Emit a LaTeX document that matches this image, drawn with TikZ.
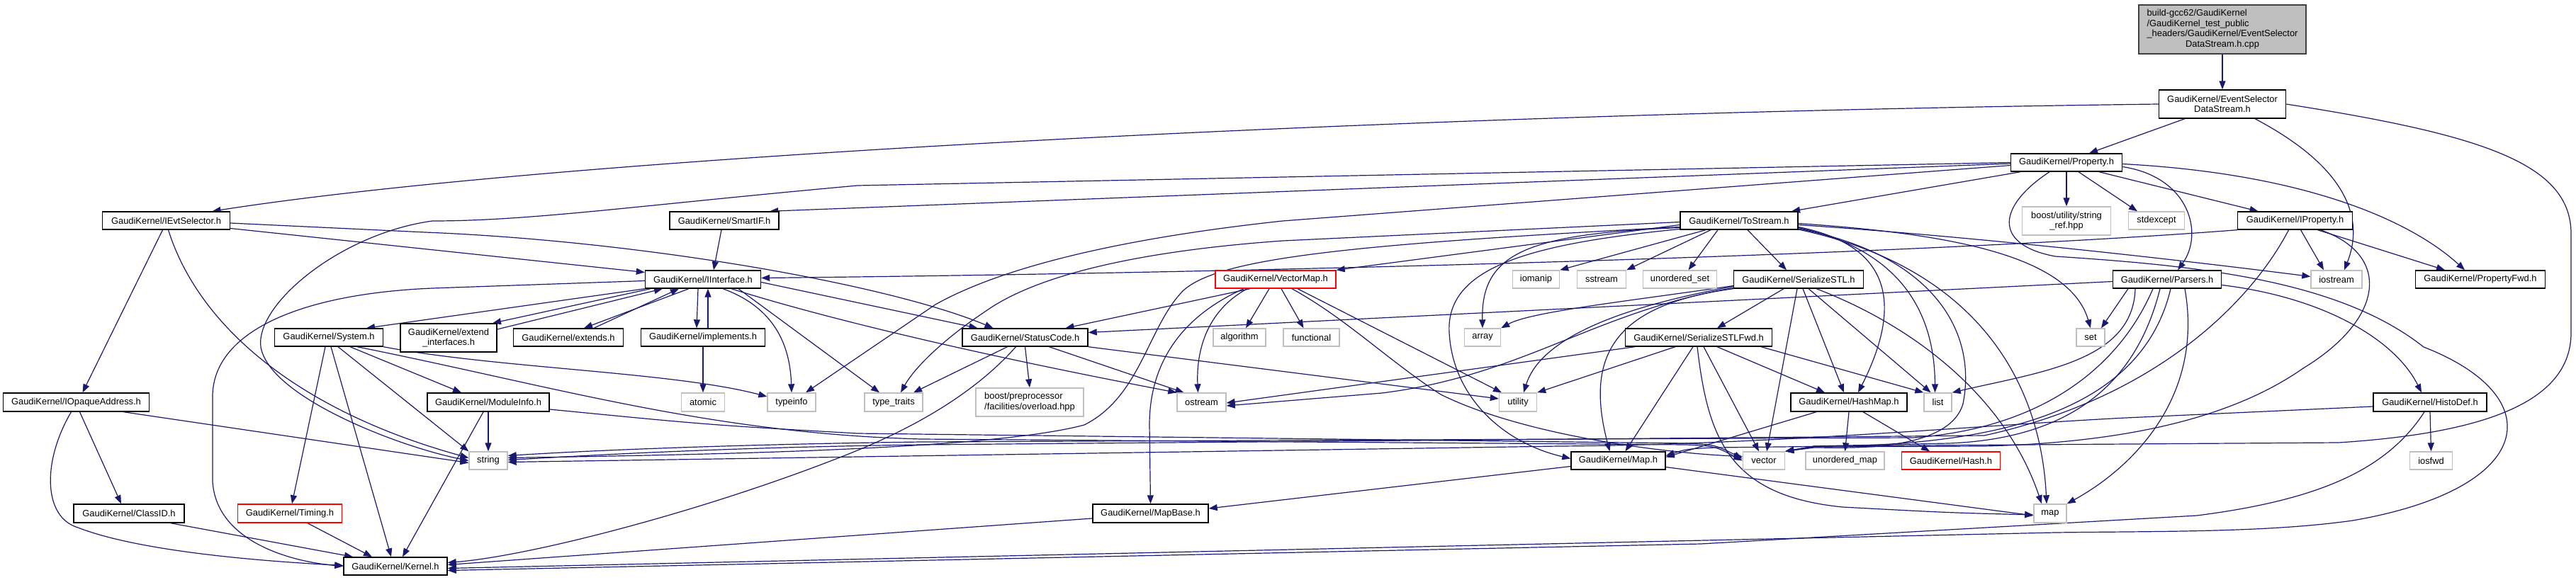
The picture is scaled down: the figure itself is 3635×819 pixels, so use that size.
\documentclass[tikz,border=0pt]{standalone}
\usepackage{fontspec}
\setmainfont{Liberation Sans}
\usetikzlibrary{arrows.meta,calc}
\definecolor{edgec}{HTML}{191970}
\definecolor{sysgray}{HTML}{BFBFBF}
\pgfdeclarelayer{back}
\pgfdeclarelayer{bg}
\pgfsetlayers{back,bg,main}
\newcommand{\dgfont}{\fontsize{12.9pt}{14.5pt}\selectfont}
\tikzset{
 box/.style={draw=black, line width=1.4pt, rectangle, inner sep=0pt, fill=white, font=\dgfont, minimum height=25pt},
 sysbox/.style={box, draw=sysgray},
 redbox/.style={box, draw=red},
 edge/.style={draw=edgec, line width=1.2pt, -{Triangle[length=12pt,width=9pt]}},
}
\begin{document}
\begin{tikzpicture}[x=1pt,y=-1pt]
\begin{pgfonlayer}{back}\fill[white] (0,0) rectangle (3635,819);\end{pgfonlayer}
\useasboundingbox (0,0) rectangle (3635,819);
% ---- nodes ----
\node[box, fill=sysgray, draw=black!75, minimum width=236pt, minimum height=69pt] (root) at (3136,41.5)
 {\begin{tabular}{@{}l@{}}build-gcc62/GaudiKernel\\/GaudiKernel\_test\_public\\\_headers/GaudiKernel/EventSelector\\\multicolumn{1}{@{}c@{}}{DataStream.h.cpp}\end{tabular}};
\node[box, minimum width=179pt, minimum height=40pt, align=center] (esds) at (3136,147) {GaudiKernel/EventSelector\\DataStream.h};
\node[box, minimum width=157pt] (prop) at (2916,229.5) {GaudiKernel/Property.h};
% row 1
\node[box, minimum width=180pt] (iev) at (234.5,311.5) {GaudiKernel/IEvtSelector.h};
\node[box, minimum width=154pt] (smart) at (1022,311.5) {GaudiKernel/SmartIF.h};
\node[box, minimum width=166pt] (ts) at (2454,311.5) {GaudiKernel/ToStream.h};
\node[sysbox, minimum width=125pt, minimum height=40pt, align=center] (sref) at (2916,312) {boost/utility/string\\\_ref.hpp};
\node[sysbox, minimum width=79pt] (stdx) at (3043,311.5) {stdexcept};
\node[box, minimum width=162pt] (iprop) at (3238.5,311.5) {GaudiKernel/IProperty.h};
% row 2
\node[box, minimum width=163pt] (ii) at (992,394.5) {GaudiKernel/IInterface.h};
\node[redbox, minimum width=170pt] (vmap) at (1800,394.5) {GaudiKernel/VectorMap.h};
\node[sysbox, minimum width=66pt] (iomanip) at (2167.5,394.5) {iomanip};
\node[sysbox, minimum width=69pt] (sstream) at (2260,394.5) {sstream};
\node[sysbox, minimum width=104pt] (uset) at (2370.5,394.5) {unordered\_set};
\node[box, minimum width=183pt] (sstl) at (2538,394.5) {GaudiKernel/SerializeSTL.h};
\node[box, minimum width=153pt] (pars) at (3058,394.5) {GaudiKernel/Parsers.h};
\node[sysbox, minimum width=72pt] (iostream) at (3297,394.5) {iostream};
\node[box, minimum width=183pt] (pfwd) at (3500,394.5) {GaudiKernel/PropertyFwd.h};
% row 3
\node[box, minimum width=153pt] (sys) at (464,476.5) {GaudiKernel/System.h};
\node[box, minimum width=136pt, minimum height=40pt, align=center] (extif) at (633,477) {GaudiKernel/extend\\\_interfaces.h};
\node[box, minimum width=155pt] (extends) at (802,476.5) {GaudiKernel/extends.h};
\node[box, minimum width=175pt] (impl) at (992,476.5) {GaudiKernel/implements.h};
\node[box, minimum width=177pt] (sc) at (1446.5,476.5) {GaudiKernel/StatusCode.h};
\node[sysbox, minimum width=74pt] (algo) at (1749,476.5) {algorithm};
\node[sysbox, minimum width=79pt] (func) at (1850.5,476.5) {functional};
\node[sysbox, minimum width=51pt] (array) at (2092,476.5) {array};
\node[box, minimum width=207pt] (sfwd) at (2397,476.5) {GaudiKernel/SerializeSTLFwd.h};
\node[sysbox, minimum width=40pt] (set) at (2950,476.5) {set};
% row 4
\node[box, minimum width=206pt, minimum height=26pt] (ioa) at (107.5,568) {GaudiKernel/IOpaqueAddress.h};
\node[box, minimum width=172pt, minimum height=26pt] (modinfo) at (689,568) {GaudiKernel/ModuleInfo.h};
\node[sysbox, minimum width=61pt, minimum height=26pt] (atomic) at (992,568) {atomic};
\node[sysbox, minimum width=68pt, minimum height=26pt] (typeinfo) at (1117,568) {typeinfo};
\node[sysbox, minimum width=82pt, minimum height=26pt] (tt) at (1261,568) {type\_traits};
\node[sysbox, minimum width=152pt, minimum height=40pt] (boostpp) at (1453,568)
 {\begin{tabular}{@{}l@{}}boost/preprocessor\\/facilities/overload.hpp\end{tabular}};
\node[sysbox, minimum width=69pt, minimum height=26pt] (ostream) at (1695.5,568) {ostream};
\node[sysbox, minimum width=53pt, minimum height=26pt] (utility) at (2142,568) {utility};
\node[box, minimum width=164pt, minimum height=26pt] (hmap) at (2609,568) {GaudiKernel/HashMap.h};
\node[sysbox, minimum width=39pt, minimum height=26pt] (list) at (2734.5,568) {list};
\node[box, minimum width=160pt, minimum height=26pt] (histo) at (3429,568) {GaudiKernel/HistoDef.h};
% row 5
\node[sysbox, minimum width=54pt] (str) at (689,650.5) {string};
\node[box, minimum width=133pt] (maph) at (2283.5,650.5) {GaudiKernel/Map.h};
\node[sysbox, minimum width=59pt] (vec) at (2489,650.5) {vector};
\node[sysbox, minimum width=111pt] (umap) at (2603.5,650.5) {unordered\_map};
\node[redbox, minimum width=139pt] (hash) at (2753,650.5) {GaudiKernel/Hash.h};
\node[sysbox, minimum width=60pt] (iosfwd) at (3430.5,650.5) {iosfwd};
% row 6
\node[box, minimum width=156pt, minimum height=26pt] (classid) at (182,725) {GaudiKernel/ClassID.h};
\node[redbox, minimum width=147pt, minimum height=26pt] (timing) at (409,725) {GaudiKernel/Timing.h};
\node[box, minimum width=163pt, minimum height=26pt] (mapbase) at (1623.5,725) {GaudiKernel/MapBase.h};
\node[sysbox, minimum width=46pt, minimum height=26pt] (map) at (2893,725) {map};
% row 7
\node[box, minimum width=146pt] (kernel) at (558,799.5) {GaudiKernel/Kernel.h};
% ---- edges ----
\begin{pgfonlayer}{bg}
\draw[edge] (root.south) -- (esds.north);
% EventSelectorDataStream.h
\draw[edge] (esds.west) .. controls (2000,160) and (800,220) .. ([xshift=65pt]iev.north);
\draw[edge] ([xshift=-53pt]esds.south) -- ([xshift=32pt]prop.north);
\draw[edge] ([xshift=46pt]esds.south) .. controls (3300,230) and (3340,300) .. ([xshift=11pt]iostream.north);
\draw[edge] (esds.east) .. controls (3500,190) and (3628,230) .. (3628,330) -- (3628,470) .. controls (3628,570) and (3500,612) .. (3300,625) -- (2560,630) -- (vec.north east);
% Property.h
\draw[edge] ([xshift=-65pt]prop.south) -- ([xshift=74pt]ts.north);
\draw[edge] ([yshift=-1.5pt]prop.west) -- ([xshift=64pt]smart.north);
\draw[edge] (prop.west) -- (1210,262) .. controls (900,290) and (750,312) .. (610,312) .. controls (480,330) and (360,430) .. (368,490) .. controls (380,560) and (560,630) .. (str.west);
\draw[edge] ([yshift=-4pt]prop.west) -- (1810,312) .. controls (1550,340) and (1400,385) .. (1320,430) -- ([xshift=20pt]typeinfo.north);
\draw[edge] (prop.south) -- (sref.north);
\draw[edge] ([xshift=17pt]prop.south) -- ([xshift=-27pt]stdx.north);
\draw[edge] ([xshift=46pt]prop.south) -- ([xshift=-52pt]iprop.north);
\draw[edge] ([yshift=-2pt]prop.east) .. controls (3250,245) and (3400,310) .. ([xshift=-22pt]pfwd.north);
\draw[edge] ([yshift=-6pt]prop.east) .. controls (3090,250) and (3110,330) .. ([xshift=15pt]pars.north);
\draw[edge] ([xshift=-24pt]prop.south) .. controls (2820,290) and (2810,345) .. (2900,362) .. controls (3100,375) and (3300,395) .. (3420,490) .. controls (3600,560) and (3580,690) .. (3320,735) .. controls (3200,752) and (3050,750) .. (2900,752) -- ([yshift=-3pt]kernel.east);
% IEvtSelector.h
\draw[edge] ([xshift=-5pt]iev.south) -- ([xshift=9pt]ioa.north);
\draw[edge] ([xshift=3pt]iev.south) .. controls (280,460) and (420,580) .. ([yshift=4pt]str.west);
\draw[edge] ([yshift=-3.5pt]iev.east) -- (600,328) .. controls (900,340) and (1250,400) .. ([xshift=-45pt]sc.north);
\draw[edge] ([yshift=-11pt]iev.east) -- ([yshift=10pt]ii.west);
% IInterface.h
\draw[edge] ([yshift=-2pt]ii.west) -- (610,407) .. controls (420,415) and (300,470) .. (300,560) -- (300,680) .. controls (305,760) and (400,792) .. (kernel.west);
\draw[edge] (ii.south west) -- ([xshift=53pt]sys.north);
\draw[edge] ([xshift=-74pt]ii.south) -- ([xshift=62pt]extif.north);
\draw[edge] ([yshift=12pt]extif.east) -- ([xshift=-57pt]ii.south);
\draw[edge] ([xshift=-20pt]ii.south) -- ([xshift=22pt]extends.north);
\draw[edge] ([xshift=36pt]extends.north) -- ([xshift=-34pt]ii.south);
\draw[edge] ([xshift=-7pt]ii.south) -- ([xshift=-9pt]impl.north);
\draw[edge] ([xshift=7pt]impl.north) -- ([xshift=7pt]ii.south);
\draw[edge] ([yshift=-4pt]ii.east) -- ([xshift=-67pt]sc.north);
\draw[edge] ([xshift=40pt]ii.south) .. controls (1150,445) and (1350,495) .. (ostream.north west);
\draw[edge] ([xshift=50pt]ii.south) -- ([xshift=-20pt]tt.north);
\draw[edge] ([xshift=28pt]ii.south) .. controls (1095,435) and (1115,490) .. (typeinfo.north);
% System.h
\draw[edge] ([xshift=-5pt]sys.south) -- ([xshift=3pt]timing.north);
\draw[edge] ([xshift=3pt]sys.south) -- ([xshift=-6pt]kernel.north);
\draw[edge] ([xshift=13pt]sys.south) -- (str.north west);
\draw[edge] ([xshift=30pt]sys.south) -- ([xshift=-38pt]modinfo.north);
\draw[edge] (sys.south east) .. controls (700,520) and (950,525) .. ([yshift=8pt]typeinfo.west);
\draw[edge] ([xshift=40pt]sys.south) .. controls (780,545) and (1000,612) .. (1300,620) -- (2380,628) .. controls (2420,630) .. (vec.west);
% ModuleInfo.h
\draw[edge] (modinfo.south) -- (str.north);
\draw[edge] ([xshift=-7pt]modinfo.south) -- ([xshift=10pt]kernel.north);
\draw[edge] ([yshift=-10pt]modinfo.east) .. controls (1000,600) .. (1210,612) -- (2380,626) .. controls (2420,628) .. ([yshift=3pt]vec.west);
% IOpaqueAddress.h, ClassID.h, Timing.h
\draw[edge] ([xshift=5pt]ioa.south) -- ([xshift=-11pt]classid.north);
\draw[edge] ([xshift=-7pt]ioa.south) .. controls (60,650) and (60,730) .. (110,745) .. controls (200,780) and (380,793) .. ([yshift=1pt]kernel.west);
\draw[edge] ([xshift=67pt]ioa.south) -- ([yshift=-3pt]str.west);
\draw[edge] ([xshift=59pt]classid.south) -- ([xshift=-60pt]kernel.north);
\draw[edge] ([xshift=25pt]timing.south) -- ([xshift=-33pt]kernel.north);
\draw[edge] (impl.south) -- (atomic.north);
\draw[edge] ([xshift=-4pt]smart.south) -- ([xshift=15pt]ii.north);
% StatusCode.h
\draw[edge] ([xshift=-25pt]sc.south) -- ([xshift=28pt]tt.north);
\draw[edge] ([xshift=-13pt]sc.south) .. controls (1380,550) and (1300,600) .. (1200,640) .. controls (1000,720) and (750,785) .. ([yshift=5pt]kernel.east);
\draw[edge] (sc.south) -- (boostpp.north);
\draw[edge] ([xshift=34pt]sc.south) -- ([xshift=-25pt]ostream.north);
\draw[edge] (sc.south east) -- ([yshift=5pt]utility.west);
% VectorMap.h
\draw[edge] ([xshift=-36pt]vmap.south) -- ([xshift=57pt]sc.north);
\draw[edge] ([xshift=-40pt]vmap.south) .. controls (1700,440) and (1688,500) .. ([xshift=-5pt]ostream.north);
\draw[edge] ([xshift=-45pt]vmap.south) .. controls (1660,450) and (1622,520) .. (1622,600) -- (mapbase.north);
\draw[edge] ([xshift=-9pt]vmap.south) -- ([xshift=9pt]algo.north);
\draw[edge] ([xshift=8pt]vmap.south) -- ([xshift=-11pt]func.north);
\draw[edge] ([xshift=31pt]vmap.south) -- ([xshift=-23pt]utility.north);
\draw[edge] ([xshift=23pt]vmap.south) .. controls (1900,450) and (1960,510) .. (2033,557) .. controls (2150,615) and (2350,640) .. ([yshift=6pt]vec.west);
% ToStream.h
\draw[edge] ([xshift=-47pt]ts.south) -- (iomanip.north east);
\draw[edge] ([xshift=-40pt]ts.south) -- (sstream.north east);
\draw[edge] ([xshift=-30pt]ts.south) -- ([xshift=12pt]uset.north);
\draw[edge] ([xshift=12pt]ts.south) -- ([xshift=-17pt]sstl.north);
\draw[edge] ([yshift=-6pt]ts.west) -- (vmap.north east);
\draw[edge] ([yshift=-2pt]ts.west) -- (1810,340) .. controls (1600,355) and (1460,390) .. (1390,440) .. controls (1330,480) and (1290,520) .. ([xshift=10pt]tt.north);
\draw[edge] ([yshift=-9pt]ts.west) .. controls (1900,345) and (1720,365) .. (1670,410) .. controls (1620,460) and (1610,560) .. (1530,600) .. controls (1400,635) and (1000,642) .. ([yshift=4pt]str.east);
\draw[edge] ([yshift=-10pt]ts.west) .. controls (2150,330) and (2090,360) .. (array.north);
\draw[edge] ([yshift=-12pt]ts.west) .. controls (2150,345) and (2040,380) .. (2045,470) .. controls (2050,560) and (2120,625) .. ([yshift=3pt]maph.west);
\draw[edge] ([yshift=-9pt]ts.east) .. controls (2660,345) and (2690,420) .. ([xshift=13pt]hmap.north);
\draw[edge] ([yshift=-10pt]ts.east) .. controls (2690,355) and (2730,450) .. ([xshift=-4pt]list.north);
\draw[edge] ([yshift=-11.5pt]ts.east) .. controls (2730,360) and (2790,470) .. (2770,570) .. controls (2750,640) and (2600,632) .. (2560,632) -- (vec.north east);
\draw[edge] ([yshift=-12.5pt]ts.east) .. controls (2800,380) and (2880,550) .. ([xshift=-5pt]map.north);
\draw[edge] ([yshift=-4pt]ts.east) .. controls (2750,330) and (2920,360) .. (set.north);
\draw[edge] ([yshift=-6pt]ts.east) .. controls (2800,335) and (3100,370) .. ([yshift=4pt]iostream.west);
% IProperty.h
\draw[edge] (iprop.south west) .. controls (2700,360) and (1800,385) .. ([yshift=2pt]ii.east);
\draw[edge] ([xshift=-9pt]iprop.south) .. controls (3180,420) and (3050,560) .. (2800,615) -- (1300,628) .. controls (1000,632) and (800,645) .. ([yshift=1pt]str.east);
\draw[edge] ([xshift=8pt]iprop.south) -- ([xshift=-18pt]iostream.north);
\draw[edge] ([xshift=32pt]iprop.south) -- ([xshift=-50pt]pfwd.north);
\draw[edge] ([xshift=36pt]iprop.south) .. controls (3375,360) and (3365,450) .. (3250,520) .. controls (3150,590) and (3000,625) .. (2800,630) -- (2560,631) -- (vec.north east);
% Parsers.h
\draw[edge] ([yshift=-8pt]pars.east) .. controls (3280,420) and (3380,480) .. ([xshift=-12pt]histo.north);
\draw[edge] ([xshift=-55pt]pars.south) -- ([xshift=15pt]set.north);
\draw[edge] ([xshift=-45pt]pars.south) .. controls (3010,510) and (2880,525) .. (list.north east);
\draw[edge] ([yshift=-3pt]pars.west) -- ([yshift=7pt]sc.east);
\draw[edge] ([xshift=-20pt]pars.south) .. controls (2990,520) and (2880,605) .. (2700,618) -- (1300,624) .. controls (1000,628) and (800,638) .. ([yshift=7pt]str.east);
\draw[edge] ([xshift=-10pt]pars.south) .. controls (3010,560) and (2900,620) .. (2750,626) -- (2560,630) -- (vec.north east);
\draw[edge] ([xshift=25pt]pars.south) .. controls (3110,560) and (3010,660) .. (map.north east);
\draw[edge] ([xshift=5pt]pars.south) .. controls (3020,590) and (2800,625) .. (2600,630) -- (2420,632) .. controls (2380,634) .. ([yshift=7pt]maph.east);
% SerializeSTL.h
\draw[edge] ([xshift=-21pt]sstl.south) -- ([xshift=26pt]sfwd.north);
\draw[edge] ([xshift=-2pt]sstl.south) -- ([xshift=4pt]vec.north);
\draw[edge] ([xshift=6pt]sstl.south) -- ([xshift=-7pt]hmap.north);
\draw[edge] ([xshift=14pt]sstl.south) -- ([xshift=-10pt]list.north);
\draw[edge] ([xshift=25pt]sstl.south) .. controls (2700,460) and (2830,560) .. ([xshift=-12pt]map.north);
\draw[edge] ([yshift=-9pt]sstl.west) .. controls (2300,425) and (2160,440) .. (array.north east);
\draw[edge] ([yshift=-10pt]sstl.west) .. controls (2250,440) and (2170,490) .. ([xshift=8pt]utility.north);
\draw[edge] ([yshift=-12pt]sstl.west) .. controls (2250,440) and (2150,530) .. (1950,555) -- ([yshift=-5pt]ostream.east);
\draw[edge] (sstl.south west) .. controls (2280,430) and (2235,500) .. ([xshift=-12pt]maph.north);
% SerializeSTLFwd.h
\draw[edge] ([xshift=-90pt]sfwd.south) -- ([yshift=-1pt]ostream.east);
\draw[edge] ([xshift=-33pt]sfwd.south) -- (utility.north east);
\draw[edge] ([xshift=-8pt]sfwd.south) -- ([xshift=10pt]maph.north);
\draw[edge] ([xshift=-2pt]sfwd.south) .. controls (2410,620) and (2440,700) .. (2600,716) .. controls (2750,724) .. ([yshift=-2pt]map.west);
\draw[edge] ([xshift=7pt]sfwd.south) -- ([xshift=-7pt]vec.north);
\draw[edge] ([xshift=26pt]sfwd.south) -- ([xshift=-34pt]hmap.north);
\draw[edge] ([xshift=88pt]sfwd.south) -- (list.north west);
% HashMap.h, Map.h, MapBase.h
\draw[edge] ([xshift=-46pt]hmap.south) -- ([yshift=5pt]maph.east);
\draw[edge] (hmap.south) -- (umap.north);
\draw[edge] ([xshift=20pt]hmap.south) -- ([xshift=-30pt]hash.north);
\draw[edge] ([yshift=-9pt]maph.east) -- ([yshift=-3pt]map.west);
\draw[edge] ([yshift=-8pt]maph.west) -- ([yshift=7pt]mapbase.east);
\draw[edge] ([yshift=-7pt]mapbase.west) -- ([yshift=2pt]kernel.east);
% HistoDef.h
\draw[edge] (histo.south) -- (iosfwd.north);
\draw[edge] ([yshift=-6pt]histo.west) -- (3000,590) .. controls (2800,600) and (2500,628) .. (2200,630) -- ([yshift=-2pt]str.east);
\draw[edge] ([xshift=-8pt]histo.south) .. controls (3370,660) and (3280,705) .. (3100,728) -- (2400,768) -- ([yshift=-6pt]kernel.east);
\end{pgfonlayer}
\end{tikzpicture}
\end{document}
